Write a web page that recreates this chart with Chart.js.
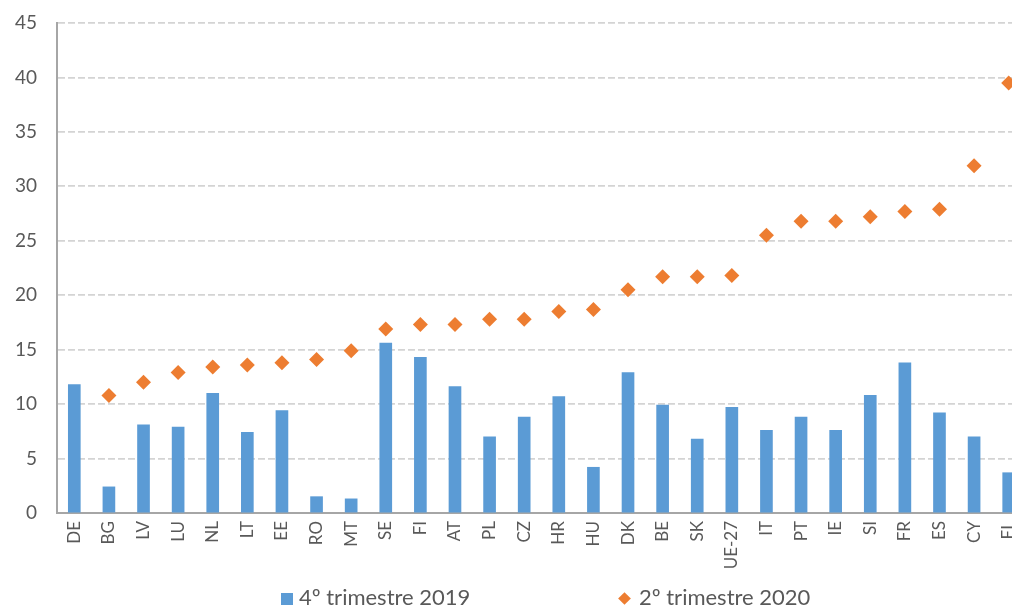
<!DOCTYPE html>
<html>
<head>
<meta charset="utf-8">
<script src="https://cdn.jsdelivr.net/npm/chart.js@4.4.0/dist/chart.umd.min.js"></script>
<style>
body{margin:0;background:#fff;overflow:hidden;width:1012px;height:605px;font-family:Lato,"Open Sans",sans-serif;}
#wrap{position:absolute;left:0;top:0;width:1026px;height:605px;}
.legend{position:absolute;top:585px;font-size:22px;color:#595959;white-space:nowrap;line-height:24px;}
.sq{display:inline-block;width:12px;height:12px;background:#5B9BD5;margin-right:6px;vertical-align:0px;}
.dm{display:inline-block;width:9px;height:9px;background:#ED7D31;transform:rotate(45deg);margin-right:10px;margin-left:2px;vertical-align:2px;}
</style>
</head>
<body>
<div id="wrap"><canvas id="chart"></canvas></div>
<div class="legend" style="left:281px"><span class="sq"></span>4º trimestre 2019</div>
<div class="legend" style="left:618px"><span class="dm"></span>2º trimestre 2020</div>
<script>
const countries = ["DE","BG","LV","LU","NL","LT","EE","RO","MT","SE","FI","AT","PL","CZ","HR","HU","DK","BE","SK","UE-27","IT","PT","IE","SI","FR","ES","CY","EL"];
const q4_2019 = [11.8,2.4,8.1,7.9,11.0,7.4,9.4,1.5,1.3,15.6,14.3,11.6,7.0,8.8,10.7,4.2,12.9,9.9,6.8,9.7,7.6,8.8,7.6,10.8,13.8,9.2,7.0,3.7];
const q2_2020 = [null,10.8,12.0,12.9,13.4,13.6,13.8,14.1,14.9,16.9,17.3,17.3,17.8,17.8,18.5,18.7,20.5,21.7,21.7,21.8,25.5,26.8,26.8,27.2,27.7,27.9,31.9,39.5];
const yTicks = [0,5,10,15,20,25,30,35,40,45];

new Chart(document.getElementById('chart'), {
  type: 'bar',
  data: {
    labels: countries,
    datasets: [
      { label: '4º trimestre 2019', data: q4_2019, backgroundColor: '#5B9BD5', barThickness: 12, order: 2 },
      { type: 'line', label: '2º trimestre 2020', data: q2_2020, showLine: false,
        pointStyle: 'rectRot', pointRadius: 7.5, pointBackgroundColor: '#ED7D31', pointBorderColor: '#ED7D31', pointBorderWidth: 0, order: 1 }
    ]
  },
  options: {
    responsive: true,
    maintainAspectRatio: false,
    animation: false,
    layout: { autoPadding: false, padding: { top: 23, right: 0, left: 0, bottom: 0 } },
    plugins: { legend: { display: false }, tooltip: { enabled: false } },
    scales: {
      x: {
        afterFit: s => { s.height = 92; s.paddingLeft = 0; s.paddingRight = 0; },
        grid: { display: false, drawTicks: false },
        border: { color: '#A6A6A6', width: 2 },
        ticks: { autoSkip: false, minRotation: 90, maxRotation: 90, padding: 8, color: '#595959', font: { family: 'Lato', size: 17 } }
      },
      y: {
        min: 0, max: 45,
        afterFit: s => { s.width = 57; s.paddingTop = 0; s.paddingBottom = 0; },
        afterBuildTicks: s => { s.ticks = yTicks.map(v => ({ value: v })); },
        grid: { color: '#D4D4D4', lineWidth: 1.8, drawTicks: false },
        border: { color: '#A6A6A6', width: 2, dash: [7, 3] },
        ticks: { padding: 20, color: '#595959', font: { family: 'Lato', size: 19 } }
      }
    }
  }
});
</script>
</body>
</html>
